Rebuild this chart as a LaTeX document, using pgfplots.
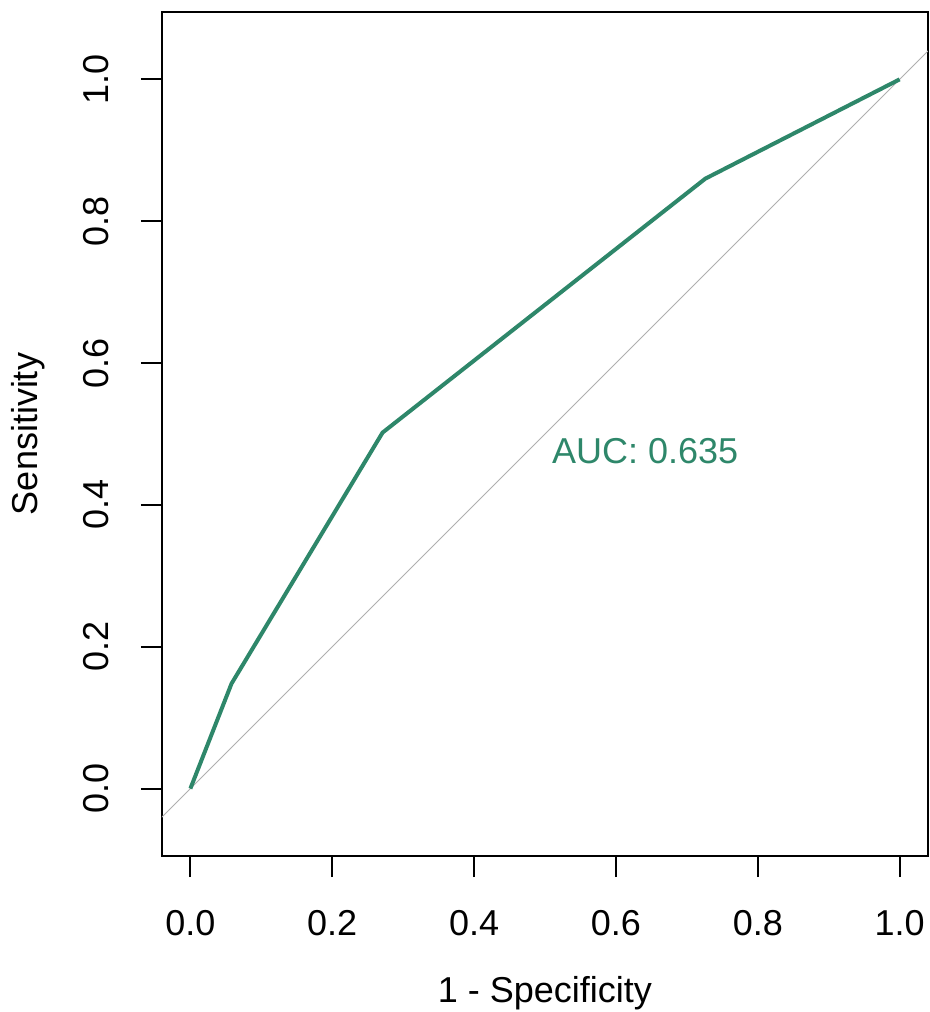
\documentclass[border=0pt]{standalone}
\usepackage{fontspec}
\setmainfont{Liberation Sans}
\usepackage{pgfplots}
\pgfplotsset{compat=1.18}
\definecolor{roc}{RGB}{46,135,106}
\definecolor{diag}{RGB}{175,175,175}
\begin{document}
\fontsize{10.8}{13}\selectfont
\begin{tikzpicture}
\begin{axis}[
  scale only axis, width=229.8pt, height=253.2pt,
  xmin=-0.04, xmax=1.04, ymin=-0.095, ymax=1.095,
  axis line style={line width=0.6pt},
  tick style={black, line width=0.6pt},
  tick align=outside, major tick length=6.3pt,
  xtick={0,0.2,...,1.0}, ytick={0,0.2,...,1.0},
  xtick pos=bottom, ytick pos=left,
  /pgf/number format/.cd, fixed, fixed zerofill, precision=1, assume math mode=true, /pgfplots/.cd,
  xticklabel style={anchor=base, yshift=-17.4pt},
  yticklabel style={rotate=90, anchor=base, yshift=9.6pt},
  xlabel={1 - Specificity}, ylabel={Sensitivity},
  xlabel style={at={(axis description cs:0.5,0)}, anchor=base, yshift=-43.8pt},
  ylabel style={at={(axis description cs:-0.1619,0.5)}, anchor=base},
]
\addplot[diag, line width=0.3pt] coordinates {(-0.2,-0.2) (1.2,1.2)};
\addplot[roc, line width=1.2pt] coordinates {
  (0,0) (0.058,0.148) (0.271,0.502) (0.726,0.860) (1,1)
};
\node[roc, anchor=base west, inner sep=0pt] at (axis cs:0.509,0.458) {AUC: 0.635};
\end{axis}
\pgfresetboundingbox
\useasboundingbox (-48.6pt,-46.8pt) rectangle (230.4pt,256.8pt);
\end{tikzpicture}
\end{document}
